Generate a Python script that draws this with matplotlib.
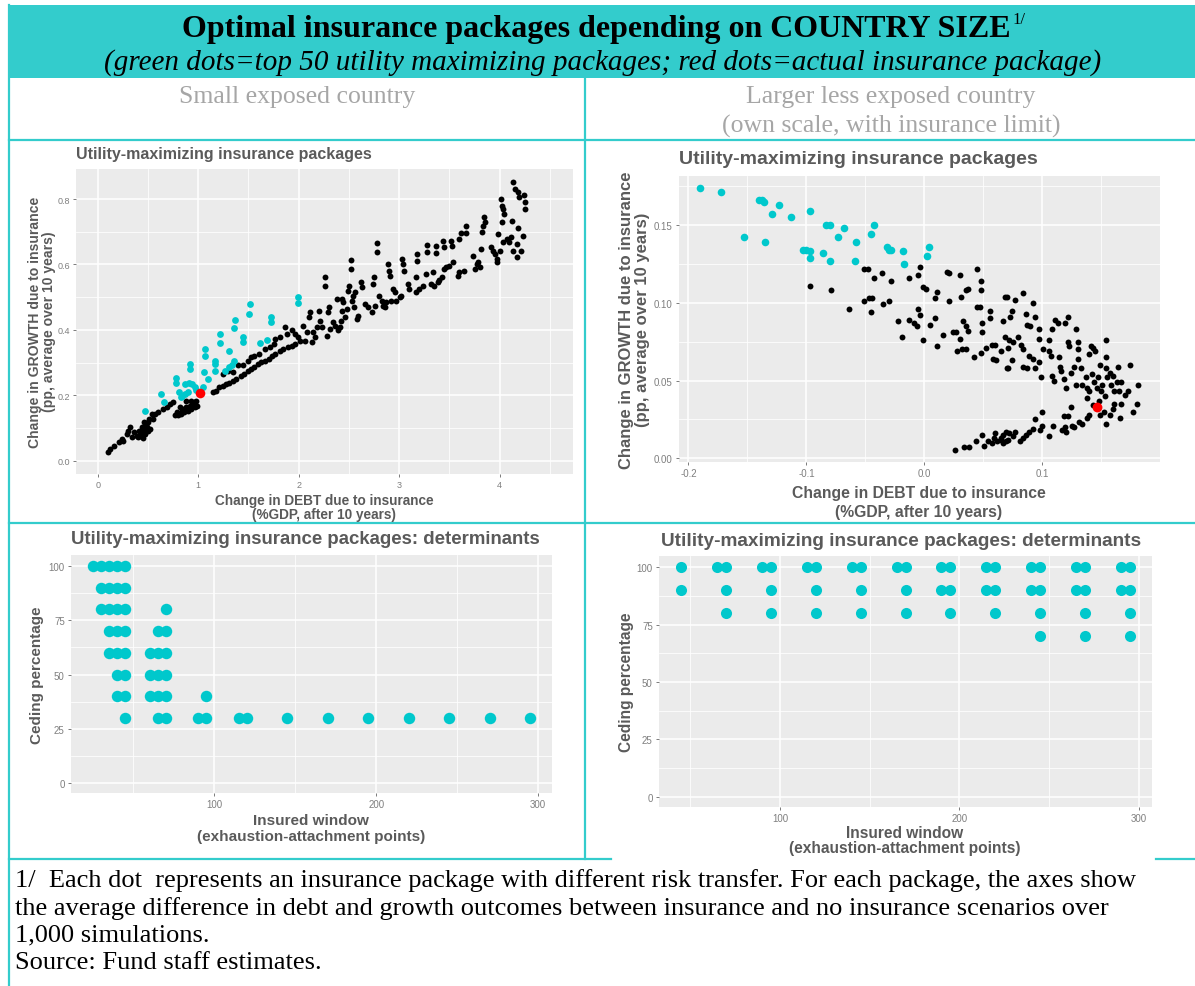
import matplotlib
matplotlib.use('Agg')
import matplotlib.pyplot as plt
from matplotlib.patches import Rectangle
from matplotlib.lines import Line2D

# ---- data ----
# top-left: small exposed country (debt change, growth change)
tl_cyan_x = [0.47, 0.63, 0.66, 0.78, 0.78, 0.81, 0.84, 0.87, 0.92, 0.92, 0.91, 0.94, 0.97, 0.90, 1.05,
             1.06, 1.07, 1.07, 1.10, 1.17, 1.17, 1.17, 1.22, 1.22, 1.31, 1.27, 1.31, 1.34, 1.36, 1.36,
             1.37, 1.45, 1.45, 1.51, 1.52, 1.62, 1.68, 1.72, 1.72, 1.99, 1.99, 0.83, 0.87, 0.98]
tl_cyan_y = [0.151, 0.204, 0.178, 0.253, 0.236, 0.209, 0.199, 0.235, 0.296, 0.280, 0.238, 0.234, 0.224,
             0.209, 0.224, 0.270, 0.319, 0.341, 0.250, 0.306, 0.296, 0.275, 0.360, 0.387, 0.336, 0.275,
             0.285, 0.291, 0.306, 0.405, 0.431, 0.377, 0.362, 0.449, 0.479, 0.359, 0.369, 0.440, 0.423,
             0.500, 0.481, 0.194, 0.204, 0.216]
tl_black_x = [0.106, 0.12, 0.16, 0.21, 0.24, 0.25, 0.29, 0.30, 0.32, 0.34, 0.36, 0.39, 0.40, 0.41, 0.43,
              0.44, 0.45, 0.46, 0.47, 0.49, 0.50, 0.51, 0.52, 0.54, 0.55, 0.57, 0.60, 0.65, 0.69, 0.72,
              0.75, 0.77, 0.79, 0.82, 0.83, 0.85, 0.86, 0.88, 0.90, 0.92, 0.93, 0.95, 0.97, 0.98, 0.99,
              0.93, 0.88, 0.42, 0.44, 0.46, 0.48, 0.45, 0.50, 0.80, 0.84, 0.90, 0.96,
              1.15, 1.18, 1.21, 1.25, 1.28, 1.31, 1.35, 1.38, 1.43, 1.46, 1.50, 1.53, 1.56, 1.60, 1.63,
              1.66, 1.70, 1.73, 1.76, 1.81, 1.84, 1.89, 1.93, 1.96, 2.01,
              1.25, 1.30, 1.35, 1.40, 1.45, 1.50, 1.53, 1.56, 1.61, 1.66, 1.71, 1.75, 1.76, 1.81, 1.86,
              1.88, 1.93, 1.96, 1.99, 2.04,
              2.06, 2.08, 2.10, 2.11, 2.13, 2.14, 2.16, 2.18, 2.20, 2.21, 2.23, 2.26, 2.26, 2.28, 2.29,
              2.30, 2.31, 2.34, 2.36, 2.38, 2.39, 2.41, 2.42, 2.43, 2.43, 2.44, 2.46, 2.48, 2.49, 2.50,
              2.52, 2.52, 2.53, 2.54, 2.55, 2.56, 2.58, 2.59, 2.62, 2.63, 2.66, 2.69, 2.73, 2.74, 2.75,
              2.76, 2.78, 2.78, 2.80, 2.83, 2.84, 2.86, 2.87, 2.89, 2.90, 2.91, 2.92, 2.94, 2.96, 2.97,
              3.01, 3.02, 3.03, 3.04, 3.05, 3.09, 3.10, 3.17, 3.18, 3.18, 3.20, 3.17, 3.24, 3.27, 3.28,
              3.28, 3.32, 3.34, 3.35, 3.37, 3.37, 3.39, 3.40, 3.43, 3.44, 3.45, 3.45, 3.47, 3.50, 3.52,
              3.53, 3.54, 3.59, 3.60, 3.60, 3.62, 3.65, 3.67, 3.67, 3.73, 3.75, 3.77, 3.78, 3.80, 3.81,
              3.82, 3.83, 3.84, 3.85, 3.91, 3.93, 3.95, 3.97, 3.97, 3.98, 4.00, 4.01, 4.02, 4.03, 4.04,
              4.02, 4.03, 4.07, 4.09, 4.11, 4.12, 4.13, 4.13, 4.15, 4.17, 4.18, 4.18, 4.17, 4.19, 4.21,
              4.23, 4.24, 4.25, 4.25]
tl_black_y = [0.025, 0.036, 0.046, 0.056, 0.066, 0.061, 0.082, 0.092, 0.102, 0.071, 0.087, 0.076, 0.071,
              0.092, 0.082, 0.102, 0.092, 0.117, 0.082, 0.102, 0.117, 0.127, 0.097, 0.143, 0.127, 0.143,
              0.148, 0.158, 0.163, 0.173, 0.178, 0.138, 0.148, 0.163, 0.143, 0.158, 0.148, 0.163, 0.151,
              0.168, 0.158, 0.173, 0.163, 0.183, 0.168, 0.183, 0.183, 0.075, 0.086, 0.096, 0.106, 0.068,
              0.090, 0.140, 0.152, 0.160, 0.178,
              0.209, 0.214, 0.224, 0.229, 0.234, 0.236, 0.245, 0.250, 0.260, 0.265, 0.275, 0.280, 0.285,
              0.296, 0.301, 0.306, 0.311, 0.321, 0.326, 0.336, 0.341, 0.347, 0.352, 0.357, 0.367,
              0.265, 0.275, 0.270, 0.291, 0.291, 0.306, 0.316, 0.321, 0.326, 0.341, 0.347, 0.357, 0.372,
              0.377, 0.408, 0.387, 0.398, 0.387, 0.377, 0.413,
              0.367, 0.392, 0.438, 0.454, 0.362, 0.392, 0.377, 0.408, 0.459, 0.428, 0.408, 0.561, 0.535,
              0.382, 0.454, 0.469, 0.403, 0.423, 0.413, 0.494, 0.398, 0.408, 0.428, 0.459, 0.494, 0.484,
              0.438, 0.464, 0.520, 0.535, 0.586, 0.614, 0.489, 0.504, 0.469, 0.515, 0.433, 0.443, 0.545,
              0.530, 0.479, 0.469, 0.454, 0.540, 0.561, 0.474, 0.637, 0.665, 0.504, 0.489, 0.474, 0.469,
              0.484, 0.601, 0.581, 0.566, 0.489, 0.525, 0.515, 0.489, 0.499, 0.504, 0.617, 0.601, 0.581,
              0.540, 0.525, 0.515, 0.632, 0.612, 0.525, 0.561, 0.535, 0.571, 0.661, 0.637, 0.540, 0.576,
              0.535, 0.657, 0.634, 0.545, 0.552, 0.561, 0.673, 0.652, 0.586, 0.591, 0.596, 0.673, 0.655,
              0.606, 0.566, 0.576, 0.678, 0.695, 0.581, 0.695, 0.719, 0.627, 0.586, 0.601, 0.606, 0.591,
              0.647, 0.698, 0.719, 0.744, 0.729, 0.652, 0.642, 0.632, 0.606, 0.617, 0.693, 0.642, 0.800,
              0.780, 0.770, 0.754, 0.729, 0.668, 0.678, 0.668, 0.683, 0.734, 0.642, 0.851, 0.831, 0.662,
              0.713, 0.821, 0.622, 0.805, 0.642, 0.688, 0.811, 0.790, 0.770]
tl_red_x = [1.02]
tl_red_y = [0.206]

# top-right: larger less exposed country
tr_cyan_x = [-0.190, -0.172, -0.140, -0.136, -0.138, -0.123, -0.129, -0.113, -0.097, -0.153, -0.135,
             -0.083, -0.080, -0.068, -0.073, -0.103, -0.100, -0.097, -0.097, -0.086, -0.080,
             -0.058, -0.059, -0.043, -0.045, -0.032, -0.030, -0.028, -0.018, -0.017, 0.004, 0.002]
tr_cyan_y = [0.174, 0.171, 0.166, 0.165, 0.166, 0.163, 0.157, 0.155, 0.159, 0.142, 0.139,
             0.150, 0.150, 0.148, 0.142, 0.134, 0.134, 0.133, 0.129, 0.132, 0.127,
             0.139, 0.127, 0.150, 0.144, 0.136, 0.134, 0.134, 0.133, 0.125, 0.136, 0.130]
tr_black_x = [-0.097, -0.079, -0.064,
              -0.051, -0.048, -0.043, -0.036, -0.028, -0.004, -0.005, -0.013, -0.051, -0.047, -0.044,
              -0.045, -0.035, -0.030, -0.022, -0.019, -0.013, -0.009, -0.006, -0.005, -0.004, -0.001,
              0.001, -0.001, 0.005, 0.009, 0.011, 0.009, 0.011, 0.019, 0.021, 0.021, 0.016, 0.024, 0.027,
              0.030, 0.031, 0.035, 0.037, 0.033, 0.035, 0.037, 0.030, 0.028, 0.032, 0.035, 0.045, 0.048,
              0.048, 0.045, 0.047, 0.049, 0.049, 0.042, 0.048, 0.052, 0.056, 0.056, 0.057, 0.060, 0.058,
              0.061, 0.065, 0.067, 0.068, 0.070, 0.068, 0.070,
              0.026, 0.034, 0.038, 0.044, 0.049, 0.051, 0.054, 0.057, 0.059, 0.060, 0.062, 0.065, 0.067,
              0.069, 0.071,
              0.077, 0.084, 0.092, 0.074, 0.073, 0.086, 0.094, 0.087, 0.090, 0.097, 0.097, 0.072, 0.075,
              0.079, 0.082, 0.084, 0.071, 0.074, 0.071, 0.084, 0.087, 0.089, 0.092, 0.094, 0.097, 0.099,
              0.101, 0.106, 0.107, 0.106, 0.108, 0.111, 0.113, 0.119, 0.122, 0.129, 0.108, 0.110, 0.114,
              0.115, 0.116, 0.118, 0.120, 0.122, 0.123, 0.124, 0.127, 0.130, 0.130, 0.130, 0.129, 0.133,
              0.134, 0.137, 0.138, 0.140, 0.141, 0.143, 0.145, 0.138, 0.140, 0.142, 0.144, 0.146, 0.147,
              0.149, 0.150, 0.151, 0.153, 0.154, 0.154, 0.154, 0.155, 0.157, 0.158, 0.160, 0.161, 0.161,
              0.163, 0.164, 0.165, 0.167, 0.167, 0.170, 0.173, 0.174, 0.180, 0.181, 0.177, 0.166, 0.154,
              0.149, 0.152, 0.157, 0.160, 0.148, 0.143, 0.140, 0.138, 0.134, 0.131, 0.127, 0.125, 0.124,
              0.122, 0.118, 0.119, 0.120, 0.117, 0.109, 0.106, 0.100, 0.100, 0.098, 0.094, 0.092, 0.089,
              0.086, 0.084, 0.081, 0.077, 0.075, 0.072, 0.069, 0.067, 0.065]
tr_black_y = [0.111, 0.108, 0.096,
              0.122, 0.122, 0.116, 0.119, 0.114, 0.123, 0.118, 0.116, 0.101, 0.103, 0.103, 0.094, 0.099,
              0.101, 0.088, 0.078, 0.089, 0.087, 0.085, 0.096, 0.092, 0.110, 0.109, 0.076, 0.086, 0.103,
              0.107, 0.090, 0.072, 0.120, 0.119, 0.101, 0.079, 0.081, 0.081, 0.118, 0.104, 0.108, 0.109,
              0.088, 0.085, 0.082, 0.077, 0.069, 0.070, 0.070, 0.122, 0.114, 0.108, 0.097, 0.097, 0.087,
              0.081, 0.065, 0.068, 0.071, 0.095, 0.090, 0.073, 0.073, 0.064, 0.063, 0.069, 0.088, 0.104,
              0.104, 0.078, 0.058,
              0.005, 0.007, 0.007, 0.011, 0.015, 0.008, 0.011, 0.010, 0.013, 0.016, 0.011, 0.013, 0.015,
              0.017, 0.012,
              0.102, 0.106, 0.100, 0.095, 0.091, 0.093, 0.091, 0.086, 0.085, 0.083, 0.077, 0.076, 0.075,
              0.078, 0.073, 0.070, 0.071, 0.063, 0.058, 0.059, 0.058, 0.066, 0.064, 0.058, 0.062, 0.052,
              0.070, 0.069, 0.066, 0.076, 0.083, 0.089, 0.087, 0.087, 0.091, 0.083, 0.053, 0.050, 0.065,
              0.059, 0.056, 0.051, 0.045, 0.075, 0.072, 0.055, 0.059, 0.070, 0.075, 0.064, 0.047, 0.058,
              0.047, 0.052, 0.045, 0.067, 0.072, 0.071, 0.069, 0.039, 0.043, 0.054, 0.049, 0.045, 0.052,
              0.060, 0.043, 0.047, 0.040, 0.076, 0.065, 0.058, 0.052, 0.055, 0.047, 0.053, 0.043, 0.035,
              0.049, 0.059, 0.043, 0.049, 0.035, 0.041, 0.043, 0.060, 0.035, 0.047, 0.030, 0.026, 0.022,
              0.028, 0.030, 0.028, 0.032, 0.037, 0.034, 0.028, 0.026, 0.022, 0.023, 0.020, 0.021, 0.033,
              0.027, 0.027, 0.020, 0.017, 0.018, 0.021, 0.014, 0.030, 0.021, 0.018, 0.025, 0.019, 0.017,
              0.015, 0.013, 0.011, 0.017, 0.014, 0.016, 0.011, 0.010, 0.012]
tr_red_x = [0.146]
tr_red_y = [0.033]

# bottom-left: insured window vs ceding percentage (small country)
bl_window = [25, 30, 35, 40, 45,
             30, 35, 40, 45,
             30, 35, 40, 45, 70,
             35, 40, 45, 65, 70,
             35, 40, 45, 60, 65, 70,
             40, 45, 60, 65, 70,
             40, 45, 60, 65, 70, 95,
             45, 65, 70, 90, 95, 115, 120, 145, 170, 195, 220, 245, 270, 295]
bl_ceding = [100] * 5 + [90] * 4 + [80] * 5 + [70] * 5 + [60] * 6 + [50] * 5 + [40] * 6 + [30] * 14

# bottom-right: insured window vs ceding percentage (larger country)
br_window = [45, 65, 70, 90, 95, 115, 120, 140, 145, 165, 170, 190, 195, 215, 220, 240, 245, 265, 270, 290, 295,
             45, 70, 95, 120, 145, 170, 190, 195, 215, 220, 240, 245, 265, 270, 290, 295,
             70, 95, 120, 145, 170, 195, 220, 245, 270, 295,
             245, 270, 295]
br_ceding = [100] * 21 + [90] * 16 + [80] * 10 + [70] * 3

# ---- figure ----
W, H = 1195, 987
fig = plt.figure(figsize=(W / 100, H / 100), dpi=100)
TEAL = '#33CCCC'
SERIF = 'Liberation Serif'
SANS = 'Liberation Sans'
CYAN = '#00C8CC'


def fx(px):
    return px / W


def fy(py):
    return 1 - py / H


def hline(y, x0, x1):
    fig.add_artist(Line2D([fx(x0), fx(x1)], [fy(y), fy(y)], transform=fig.transFigure,
                          color=TEAL, lw=1.6, zorder=1))


def vline(x, y0, y1):
    fig.add_artist(Line2D([fx(x), fx(x)], [fy(y0), fy(y1)], transform=fig.transFigure,
                          color=TEAL, lw=1.6, zorder=1))


# table frame
fig.add_artist(Rectangle((fx(9), fy(79)), fx(1195) - fx(9), (79 - 6) / H, transform=fig.transFigure,
                         facecolor=TEAL, edgecolor='none', zorder=0))
hline(141, 9, 1195)
hline(524, 9, 1195)
hline(860, 9, 611)
hline(860, 1156, 1195)
vline(9, 6, 987)
vline(585, 79, 860)

# header texts
fig.text(fx(1011), fy(29), 'Optimal insurance packages depending on COUNTRY SIZE', ha='right', va='center',
         family=SERIF, fontweight='bold', fontsize=23)
fig.text(fx(1012), fy(20), '1/', ha='left', va='center', family=SERIF, fontsize=12)
fig.text(fx(603), fy(63), '(green dots=top 50 utility maximizing packages; red dots=actual insurance package)',
         ha='center', va='center', family=SERIF, style='italic', fontsize=21)
fig.text(fx(297), fy(97), 'Small exposed country', ha='center', va='center', family=SERIF,
         fontsize=18.5, color='#A6A6A6')
fig.text(fx(891), fy(97), 'Larger less exposed country', ha='center', va='center', family=SERIF,
         fontsize=18.5, color='#A6A6A6')
fig.text(fx(891), fy(126), '(own scale, with insurance limit)', ha='center', va='center', family=SERIF,
         fontsize=18.5, color='#A6A6A6')

# footnote
notes = ['1/  Each dot  represents an insurance package with different risk transfer. For each package, the axes show',
         'the average difference in debt and growth outcomes between insurance and no insurance scenarios over',
         '1,000 simulations.',
         'Source: Fund staff estimates.']
for i, line in enumerate(notes):
    fig.text(fx(15), fy(881 + 27.3 * i), line, ha='left', va='center', family=SERIF, fontsize=19)


def panel(l, t, r, b):
    return fig.add_axes([fx(l), fy(b), (r - l) / W, (b - t) / H])


def ggstyle(ax, xlim, ylim, xmaj, xmin, ymaj, ymin, xlabs, ylabs, tsize):
    ax.set_facecolor('#EBEBEB')
    ax.set_xlim(*xlim)
    ax.set_ylim(*ylim)
    ax.set_xticks(xmaj)
    ax.set_xticklabels(xlabs)
    ax.set_xticks(xmin, minor=True)
    ax.set_yticks(ymaj)
    ax.set_yticklabels(ylabs)
    ax.set_yticks(ymin, minor=True)
    ax.grid(which='major', color='white', lw=1.1)
    ax.grid(which='minor', color='white', lw=0.55)
    ax.set_axisbelow(True)
    for s in ax.spines.values():
        s.set_visible(False)
    ax.tick_params(which='major', length=2.5, width=0.6, color='#666666', labelsize=tsize,
                   labelcolor='#7F7F7F', pad=2)
    ax.tick_params(which='minor', length=0)
    for lab in ax.get_xticklabels() + ax.get_yticklabels():
        lab.set_family(SANS)


def label(x, y, s, size, rot=0, ha='center'):
    fig.text(fx(x), fy(y), s, ha=ha, va='center', rotation=rot, family=SANS, fontweight='bold',
             fontsize=size, color='#5A5A5A')


# top-left panel
ax1 = panel(76, 170, 573, 475)
ax1.scatter(tl_black_x, tl_black_y, s=18, color='black', linewidths=0)
ax1.scatter(tl_cyan_x, tl_cyan_y, s=24, color=CYAN, linewidths=0)
ax1.scatter(tl_red_x, tl_red_y, s=48, color='#FF0000', linewidths=0)
ggstyle(ax1, (-0.216, 4.73), (-0.041, 0.892), [0, 1, 2, 3, 4], [0.5, 1.5, 2.5, 3.5, 4.5],
        [0, 0.2, 0.4, 0.6, 0.8], [0.1, 0.3, 0.5, 0.7], ['0', '1', '2', '3', '4'],
        ['0.0', '0.2', '0.4', '0.6', '0.8'], 6.5)
label(76, 155, 'Utility-maximizing insurance packages', 11.5, ha='left')
label(35, 322, 'Change in GROWTH due to insurance', 10.1, rot=90)
label(49, 322, '(pp, average over 10 years)', 10.1, rot=90)
label(324, 501, 'Change in DEBT due to insurance', 9.8)
label(324, 515, '(%GDP, after 10 years)', 9.8)

# top-right panel
ax2 = panel(679, 177, 1160, 463)
ax2.scatter(tr_black_x, tr_black_y, s=18, color='black', linewidths=0)
ax2.scatter(tr_cyan_x, tr_cyan_y, s=30, color=CYAN, linewidths=0)
ax2.scatter(tr_red_x, tr_red_y, s=50, color='#FF0000', linewidths=0)
ggstyle(ax2, (-0.208, 0.1998), (-0.0024, 0.1815), [-0.2, -0.1, 0.0, 0.1], [-0.15, -0.05, 0.05, 0.15],
        [0, 0.05, 0.10, 0.15], [0.025, 0.075, 0.125, 0.175], ['-0.2', '-0.1', '0.0', '0.1'],
        ['0.00', '0.05', '0.10', '0.15'], 7)
label(679, 160, 'Utility-maximizing insurance packages', 14, ha='left')
label(626, 320, 'Change in GROWTH due to insurance', 12, rot=90)
label(642, 320, '(pp, average over 10 years)', 12, rot=90)
label(919, 494, 'Change in DEBT due to insurance', 11.3)
label(919, 512, '(%GDP, after 10 years)', 11.3)

# bottom-left panel
ax3 = panel(71, 556, 552, 794)
ax3.scatter(bl_window, bl_ceding, s=68, color=CYAN, linewidths=0)
ggstyle(ax3, (11.5, 308.5), (-4.5, 105), [100, 200, 300], [50, 150, 250],
        [0, 25, 50, 75, 100], [12.5, 37.5, 62.5, 87.5], ['100', '200', '300'],
        ['0', '25', '50', '75', '100'], 7)
label(71, 540, 'Utility-maximizing insurance packages: determinants', 13.4, ha='left')
label(37, 675, 'Ceding percentage', 11, rot=90)
label(311, 821, 'Insured window', 11)
label(311, 837, '(exhaustion-attachment points)', 11)

# bottom-right panel
ax4 = panel(659, 557, 1152, 808)
ax4.scatter(br_window, br_ceding, s=64, color=CYAN, linewidths=0)
ggstyle(ax4, (32.5, 307.5), (-4.5, 105), [100, 200, 300], [50, 150, 250],
        [0, 25, 50, 75, 100], [12.5, 37.5, 62.5, 87.5], ['100', '200', '300'],
        ['0', '25', '50', '75', '100'], 7)
label(661, 541, 'Utility-maximizing insurance packages: determinants', 13.7, ha='left')
label(626, 682, 'Ceding percentage', 11.2, rot=90)
label(905, 834, 'Insured window', 11.2)
label(905, 849, '(exhaustion-attachment points)', 11.2)

fig.savefig('out.png', dpi=100)
